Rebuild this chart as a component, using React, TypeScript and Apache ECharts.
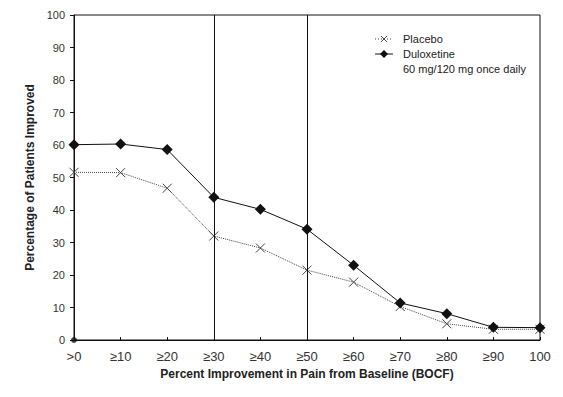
import React, { useEffect, useRef } from "react";
import * as echarts from "echarts";

const categories = [">0", "≥10", "≥20", "≥30", "≥40", "≥50", "≥60", "≥70", "≥80", "≥90", "100"];
const placebo = [51.6, 51.5, 46.7, 32.0, 28.3, 21.5, 17.8, 10.3, 5.0, 3.3, 3.3];
const duloxetine = [60.1, 60.3, 58.6, 43.9, 40.2, 34.1, 23.0, 11.4, 8.1, 3.9, 3.8];
const referenceLines = ["≥30", "≥50"];
const originDot = [[">0", 0]];
const yTicks = { min: 0, max: 100, interval: 10 };

const FONT = "'Liberation Sans Narrow', 'Arial Narrow', 'Liberation Sans', Arial, sans-serif";
const XPATH = "path://M0,0L10,10M10,0L0,10";

export default function App() {
  const ref = useRef<HTMLDivElement>(null);
  useEffect(() => {
    if (!ref.current) return;
    const chart = echarts.init(ref.current, undefined, { renderer: "svg" });
    chart.setOption({
      animation: false,
      backgroundColor: "#fff",
      textStyle: { fontFamily: FONT },
      grid: { left: 74, right: 23, top: 15, bottom: 57, show: true, borderColor: "#111", borderWidth: 1 },
      xAxis: {
        type: "category",
        data: categories,
        boundaryGap: false,
        name: "Percent Improvement in Pain from Baseline (BOCF)",
        nameLocation: "middle",
        nameGap: 26,
        nameTextStyle: { fontFamily: FONT, fontWeight: "bold", fontSize: 12, color: "#222" },
        axisLine: { lineStyle: { color: "#111", width: 1 } },
        axisTick: { inside: true, length: 3, lineStyle: { color: "#111" } },
        axisLabel: { fontFamily: FONT, fontSize: 13, color: "#333", margin: 10 },
        splitLine: { show: false },
      },
      yAxis: {
        type: "value",
        min: yTicks.min,
        max: yTicks.max,
        interval: yTicks.interval,
        name: "Percentage of Patients Improved",
        nameLocation: "middle",
        nameGap: 28,
        nameTextStyle: { fontFamily: FONT, fontWeight: "bold", fontSize: 12, color: "#222" },
        axisLine: { show: true, lineStyle: { color: "#111", width: 1 } },
        axisTick: { show: true, length: 4, lineStyle: { color: "#111" } },
        axisLabel: { fontFamily: FONT, fontSize: 11, color: "#333", margin: 9 },
        splitLine: { show: false },
      },
      series: [
        {
          name: "Placebo",
          type: "line",
          data: placebo,
          symbol: XPATH,
          symbolSize: 9,
          showAllSymbol: true,
          lineStyle: { color: "#444", width: 1, type: "dotted" },
          itemStyle: { color: "rgba(0,0,0,0)", borderColor: "#444", borderWidth: 1 },
          z: 3,
        },
        {
          name: "Duloxetine",
          type: "line",
          data: duloxetine,
          symbol: "diamond",
          symbolSize: 11,
          showAllSymbol: true,
          lineStyle: { color: "#111", width: 1 },
          itemStyle: { color: "#111" },
          markLine: {
            silent: true,
            symbol: ["none", "none"],
            label: { show: false },
            lineStyle: { color: "#111", width: 1, type: "solid" },
            data: referenceLines.map((c) => ({ xAxis: c })),
          },
          z: 4,
        },
        {
          name: "origin",
          type: "scatter",
          data: originDot,
          symbol: "circle",
          symbolSize: 6,
          itemStyle: { color: "#111" },
          z: 5,
        },
      ],
      graphic: [
        { type: "line", shape: { x1: 375, y1: 39, x2: 393, y2: 39 }, style: { stroke: "#444", lineWidth: 1, lineDash: [1, 2] } },
        { type: "line", shape: { x1: 381, y1: 36, x2: 387, y2: 42 }, style: { stroke: "#444", lineWidth: 1 } },
        { type: "line", shape: { x1: 387, y1: 36, x2: 381, y2: 42 }, style: { stroke: "#444", lineWidth: 1 } },
        { type: "text", x: 403, y: 39, style: { text: "Placebo", font: `11px ${FONT}`, fill: "#222", verticalAlign: "middle" } },
        { type: "line", shape: { x1: 375, y1: 54, x2: 393, y2: 54 }, style: { stroke: "#111", lineWidth: 1 } },
        { type: "polygon", shape: { points: [[384, 50], [388, 54], [384, 58], [380, 54]] }, style: { fill: "#111" } },
        { type: "text", x: 403, y: 54, style: { text: "Duloxetine", font: `11px ${FONT}`, fill: "#222", verticalAlign: "middle" } },
        { type: "text", x: 403, y: 69, style: { text: "60 mg/120 mg once daily", font: `11px ${FONT}`, fill: "#222", verticalAlign: "middle" } },
      ],
    });
    return () => chart.dispose();
  }, []);
  return <div ref={ref} style={{ width: 563, height: 397, position: "absolute", left: 0, top: 0 }} />;
}
